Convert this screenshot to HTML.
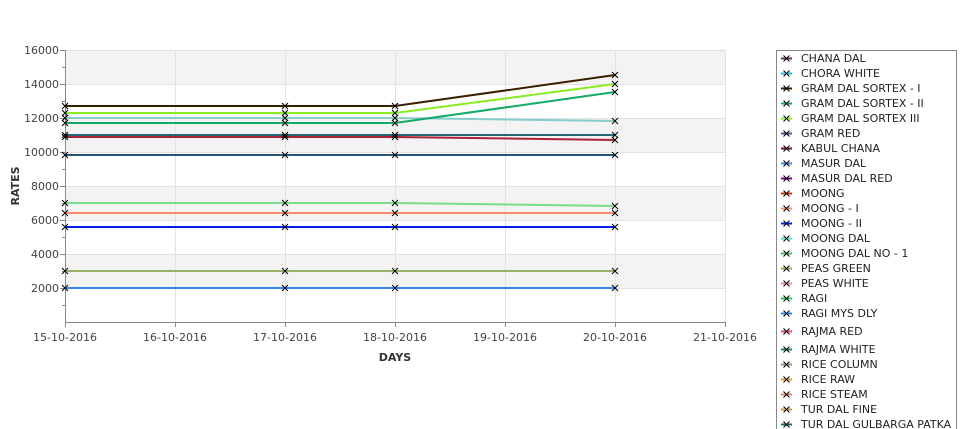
<!DOCTYPE html>
<html><head><meta charset="utf-8"><style>
html,body{margin:0;padding:0;background:#fff;overflow:hidden;width:975px;height:429px;}
svg{display:block;font-family:"DejaVu Sans","Liberation Sans",sans-serif;}
</style></head><body>
<svg width="975" height="429" viewBox="0 0 975 429" xmlns="http://www.w3.org/2000/svg" overflow="hidden">
<defs>
<g id="m"><path d="M-3,-3L3,3M-3,3L3,-3" stroke="#000" stroke-width="1" fill="none"/></g>
</defs>
<rect x="65" y="50" width="660" height="34" fill="#f3f3f3"/>
<rect x="65" y="118" width="660" height="34" fill="#f3f3f3"/>
<rect x="65" y="186" width="660" height="34" fill="#f3f3f3"/>
<rect x="65" y="254" width="660" height="34" fill="#f3f3f3"/>
<g stroke="#e2e2e2" stroke-width="1" fill="none">
<path d="M65,50.5H725M65,84.5H725M65,118.5H725M65,152.5H725M65,186.5H725M65,220.5H725M65,254.5H725M65,288.5H725"/>
<path d="M175.5,50V322M285.5,50V322M395.5,50V322M505.5,50V322M615.5,50V322M725.5,50V322"/>
</g>
<g stroke="#888" stroke-width="1" fill="none">
<path d="M65.5,50V322.5H725"/>
<path d="M60,50.5H65M60,84.5H65M60,118.5H65M60,152.5H65M60,186.5H65M60,220.5H65M60,254.5H65M60,288.5H65"/>
<path d="M62,67.5H65M62,101.5H65M62,135.5H65M62,169.5H65M62,203.5H65M62,237.5H65M62,271.5H65M62,305.5H65"/>
<path d="M65.5,322V327M175.5,322V327M285.5,322V327M395.5,322V327M505.5,322V327M615.5,322V327M725.5,322V327"/>
</g>
<g font-size="11" fill="#444" text-anchor="end">
<text x="59" y="54">16000</text><text x="59" y="88">14000</text><text x="59" y="122">12000</text>
<text x="59" y="156">10000</text><text x="59" y="190">8000</text><text x="59" y="224">6000</text>
<text x="59" y="258">4000</text><text x="59" y="292">2000</text>
</g>
<g font-size="11" fill="#444" text-anchor="middle">
<text x="65" y="341">15-10-2016</text><text x="175" y="341">16-10-2016</text><text x="285" y="341">17-10-2016</text>
<text x="395" y="341">18-10-2016</text><text x="505" y="341">19-10-2016</text><text x="615" y="341">20-10-2016</text>
<text x="725" y="341">21-10-2016</text>
</g>
<text x="395" y="361" font-size="11" font-weight="bold" fill="#333" text-anchor="middle">DAYS</text>
<text transform="translate(19,186) rotate(-90)" font-size="11" font-weight="bold" fill="#333" text-anchor="middle">RATES</text>
<g fill="none" stroke-width="2">
<polyline stroke="#3388ee" points="65,288 285,288 395,288 615,288"/>
<polyline stroke="#99b066" points="65,271 285,271 395,271 615,271"/>
<polyline stroke="#0022ee" points="65,227 285,227 395,227 615,227"/>
<polyline stroke="#ff8866" points="65,213 285,213 395,213 615,213"/>
<polyline stroke="#77dd88" points="65,203 285,203 395,203 615,206"/>
<polyline stroke="#225577" points="65,155 285,155 395,155 615,155"/>
<polyline stroke="#aa2233" points="65,137 285,137 395,137 615,140"/>
<polyline stroke="#226677" points="65,135 285,135 395,135 615,135"/>
<polyline stroke="#88cccc" points="65,118 285,118 395,118 615,121"/>
<polyline stroke="#11aa66" points="65,123 285,123 395,123 615,92"/>
<polyline stroke="#88ee22" points="65,113 285,113 395,113 615,84"/>
<polyline stroke="#3a1f00" points="65,106 285,106 395,106 615,75"/>
</g>
<g>
<use href="#m" x="65" y="288"/><use href="#m" x="285" y="288"/><use href="#m" x="395" y="288"/><use href="#m" x="615" y="288"/>
<use href="#m" x="65" y="271"/><use href="#m" x="285" y="271"/><use href="#m" x="395" y="271"/><use href="#m" x="615" y="271"/>
<use href="#m" x="65" y="227"/><use href="#m" x="285" y="227"/><use href="#m" x="395" y="227"/><use href="#m" x="615" y="227"/>
<use href="#m" x="65" y="213"/><use href="#m" x="285" y="213"/><use href="#m" x="395" y="213"/><use href="#m" x="615" y="213"/>
<use href="#m" x="65" y="203"/><use href="#m" x="285" y="203"/><use href="#m" x="395" y="203"/><use href="#m" x="615" y="206"/>
<use href="#m" x="65" y="155"/><use href="#m" x="285" y="155"/><use href="#m" x="395" y="155"/><use href="#m" x="615" y="155"/>
<use href="#m" x="65" y="137"/><use href="#m" x="285" y="137"/><use href="#m" x="395" y="137"/><use href="#m" x="615" y="140"/>
<use href="#m" x="65" y="135"/><use href="#m" x="285" y="135"/><use href="#m" x="395" y="135"/><use href="#m" x="615" y="135"/>
<use href="#m" x="65" y="118"/><use href="#m" x="285" y="118"/><use href="#m" x="395" y="118"/><use href="#m" x="615" y="121"/>
<use href="#m" x="65" y="123"/><use href="#m" x="285" y="123"/><use href="#m" x="395" y="123"/><use href="#m" x="615" y="92"/>
<use href="#m" x="65" y="113"/><use href="#m" x="285" y="113"/><use href="#m" x="395" y="113"/><use href="#m" x="615" y="84"/>
<use href="#m" x="65" y="106"/><use href="#m" x="285" y="106"/><use href="#m" x="395" y="106"/><use href="#m" x="615" y="75"/>
</g>
<rect x="776.5" y="50.5" width="180" height="400" fill="#fff" stroke="#888"/>
<g font-size="11" fill="#222">
<g stroke-width="2" fill="none">
<path stroke="#663366" d="M781,58.5H792"/><path stroke="#22bbdd" d="M781,73.5H792"/><path stroke="#3a1f00" d="M781,88.5H792"/>
<path stroke="#11aa66" d="M781,103.5H792"/><path stroke="#88ee22" d="M781,118.5H792"/><path stroke="#445599" d="M781,133.5H792"/>
<path stroke="#771122" d="M781,148.5H792"/><path stroke="#4488ee" d="M781,163.5H792"/><path stroke="#880088" d="M781,178.5H792"/>
<path stroke="#cc3311" d="M781,193.5H792"/><path stroke="#ff8866" d="M781,208.5H792"/><path stroke="#0022ee" d="M781,223.5H792"/>
<path stroke="#55ddcc" d="M781,238.5H792"/><path stroke="#55bb66" d="M781,253.5H792"/><path stroke="#99aa55" d="M781,268.5H792"/>
<path stroke="#ee88bb" d="M781,283.5H792"/><path stroke="#22cc55" d="M781,298.5H792"/><path stroke="#2288ee" d="M781,313.5H792"/>
<path stroke="#ee4488" d="M781,331.5H792"/><path stroke="#228866" d="M781,349.5H792"/><path stroke="#889977" d="M781,364.5H792"/>
<path stroke="#ee9933" d="M781,379.5H792"/><path stroke="#dd8866" d="M781,394.5H792"/><path stroke="#cc9944" d="M781,409.5H792"/>
<path stroke="#226677" d="M781,424.5H792"/>
</g>
<g>
<use href="#m" x="786.5" y="58.5"/><use href="#m" x="786.5" y="73.5"/><use href="#m" x="786.5" y="88.5"/><use href="#m" x="786.5" y="103.5"/>
<use href="#m" x="786.5" y="118.5"/><use href="#m" x="786.5" y="133.5"/><use href="#m" x="786.5" y="148.5"/><use href="#m" x="786.5" y="163.5"/>
<use href="#m" x="786.5" y="178.5"/><use href="#m" x="786.5" y="193.5"/><use href="#m" x="786.5" y="208.5"/><use href="#m" x="786.5" y="223.5"/>
<use href="#m" x="786.5" y="238.5"/><use href="#m" x="786.5" y="253.5"/><use href="#m" x="786.5" y="268.5"/><use href="#m" x="786.5" y="283.5"/>
<use href="#m" x="786.5" y="298.5"/><use href="#m" x="786.5" y="313.5"/><use href="#m" x="786.5" y="331.5"/><use href="#m" x="786.5" y="349.5"/>
<use href="#m" x="786.5" y="364.5"/><use href="#m" x="786.5" y="379.5"/><use href="#m" x="786.5" y="394.5"/><use href="#m" x="786.5" y="409.5"/>
<use href="#m" x="786.5" y="424.5"/>
</g>
<text x="801" y="62">CHANA DAL</text><text x="801" y="77">CHORA WHITE</text><text x="801" y="92">GRAM DAL SORTEX  - I</text>
<text x="801" y="107">GRAM DAL SORTEX - II</text><text x="801" y="122">GRAM DAL SORTEX III</text><text x="801" y="137">GRAM RED</text>
<text x="801" y="152">KABUL CHANA</text><text x="801" y="167">MASUR DAL</text><text x="801" y="182">MASUR DAL RED</text>
<text x="801" y="197">MOONG</text><text x="801" y="212">MOONG - I</text><text x="801" y="227">MOONG - II</text>
<text x="801" y="242">MOONG DAL</text><text x="801" y="257">MOONG DAL NO - 1</text><text x="801" y="272">PEAS GREEN</text>
<text x="801" y="287">PEAS WHITE</text><text x="801" y="302">RAGI</text><text x="801" y="317">RAGI MYS DLY</text>
<text x="801" y="335">RAJMA RED</text><text x="801" y="353">RAJMA WHITE</text><text x="801" y="368">RICE COLUMN</text>
<text x="801" y="383">RICE RAW</text><text x="801" y="398">RICE STEAM</text><text x="801" y="413">TUR DAL FINE</text>
<text x="801" y="428">TUR DAL GULBARGA PATKA</text>
</g>
</svg>
</body></html>
